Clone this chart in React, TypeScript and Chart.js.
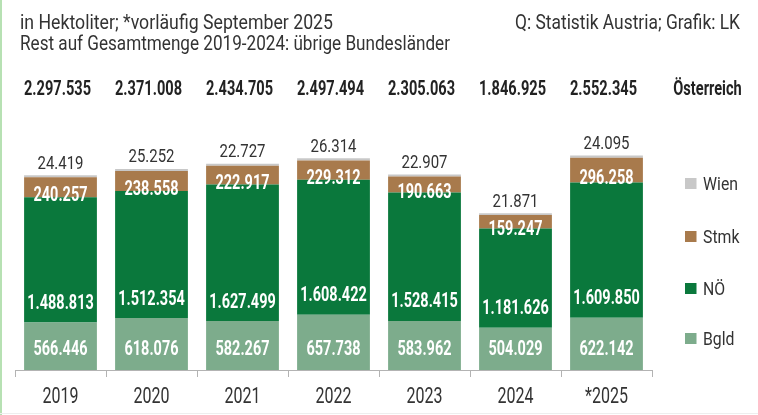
import { useEffect, useRef } from 'react';
import { Chart, registerables } from 'chart.js';

Chart.register(...registerables);

const categories = ['2019', '2020', '2021', '2022', '2023', '2024', '*2025'];
const bgld = [566446, 618076, 582267, 657738, 583962, 504029, 622142];
const noe = [1488813, 1512354, 1627499, 1608422, 1528415, 1181626, 1609850];
const stmk = [240257, 238558, 222917, 229312, 190663, 159247, 296258];
const wien = [24419, 25252, 22727, 26314, 22907, 21871, 24095];
const totals = [2297535, 2371008, 2434705, 2497494, 2305063, 1846925, 2552345];
const seriesNames = ['Bgld', 'NÖ', 'Stmk', 'Wien'];
const seriesColors = ['#7dac8c', '#0a783c', '#a87a4c', '#c8c8c8'];

const FONT = "Roboto, 'Liberation Sans', sans-serif";
const TEXT = '#333333';

function fmt(n: number): string {
  return String(n).replace(/\B(?=(\d{3})+(?!\d))/g, '.');
}

type Style = { size: number; weight: string; sample: string; width: number };

// condensed look: horizontal scale derived from a sample string width
function scaleFor(ctx: CanvasRenderingContext2D, st: Style): number {
  ctx.save();
  ctx.font = `${st.weight} ${st.size}px ${FONT}`;
  const w = ctx.measureText(st.sample).width;
  ctx.restore();
  return w > 0 ? st.width / w : 1;
}

function txt(
  ctx: CanvasRenderingContext2D,
  s: string,
  x: number,
  y: number,
  st: Style,
  sx: number,
  color: string,
  align: CanvasTextAlign
) {
  ctx.save();
  ctx.font = `${st.weight} ${st.size}px ${FONT}`;
  ctx.fillStyle = color;
  ctx.textBaseline = 'alphabetic';
  ctx.textAlign = align;
  ctx.translate(x, y);
  ctx.scale(sx, 1);
  ctx.fillText(s, 0, 0);
  ctx.restore();
}

const TITLE1 = 'in Hektoliter; *vorläufig September 2025';
const TITLE2 = 'Rest auf Gesamtmenge 2019-2024: übrige Bundesländer';
const SOURCE = 'Q: Statistik Austria; Grafik: LK';

const S_TITLE1: Style = { size: 20, weight: 'normal', sample: TITLE1, width: 313 };
const S_TITLE2: Style = { size: 20, weight: 'normal', sample: TITLE2, width: 430 };
const S_SRC: Style = { size: 20, weight: 'normal', sample: SOURCE, width: 225 };
const S_XLAB: Style = { size: 22, weight: 'normal', sample: '2019', width: 36 };
const S_TOTAL: Style = { size: 21, weight: 'bold', sample: '2.297.535', width: 67 };
const S_BAR: Style = { size: 21, weight: 'bold', sample: '566.446', width: 54 };
const S_WIEN: Style = { size: 18, weight: 'normal', sample: '24.419', width: 46 };
const S_LEG: Style = { size: 18.5, weight: 'normal', sample: 'Wien', width: 35 };

const labelsPlugin = {
  id: 'customLabels',
  afterDraw(chart: any) {
    const ctx: CanvasRenderingContext2D = chart.ctx;
    const sT1 = scaleFor(ctx, S_TITLE1);
    const sT2 = scaleFor(ctx, S_TITLE2);
    const sSrc = scaleFor(ctx, S_SRC);
    const sX = scaleFor(ctx, S_XLAB);
    const sTot = scaleFor(ctx, S_TOTAL);
    const sBar = scaleFor(ctx, S_BAR);
    const sW = scaleFor(ctx, S_WIEN);
    const sLeg = scaleFor(ctx, S_LEG);

    txt(ctx, TITLE1, 20, 29, S_TITLE1, sT1, TEXT, 'left');
    txt(ctx, TITLE2, 20, 50, S_TITLE2, sT2, TEXT, 'left');
    txt(ctx, SOURCE, 740, 29, S_SRC, sSrc, TEXT, 'right');

    const xScale = chart.scales.x;
    categories.forEach((c, i) => {
      txt(ctx, c, xScale.getPixelForValue(i), 403, S_XLAB, sX, TEXT, 'center');
    });

    totals.forEach((t, i) => {
      txt(ctx, fmt(t), xScale.getPixelForValue(i) - 3, 95, S_TOTAL, sTot, '#222', 'center');
    });
    txt(ctx, 'Österreich', 707.5, 95, S_TOTAL, sTot, '#222', 'center');

    const m0 = chart.getDatasetMeta(0);
    const m1 = chart.getDatasetMeta(1);
    const m2 = chart.getDatasetMeta(2);
    const m3 = chart.getDatasetMeta(3);
    m0.data.forEach((el: any, i: number) => {
      const p = el.getProps(['x', 'y', 'base'], true);
      txt(ctx, fmt(bgld[i]), p.x, p.base - 15, S_BAR, sBar, '#fff', 'center');
    });
    m1.data.forEach((el: any, i: number) => {
      const p = el.getProps(['x', 'y', 'base'], true);
      txt(ctx, fmt(noe[i]), p.x, p.base - 13.5, S_BAR, sBar, '#fff', 'center');
    });
    m2.data.forEach((el: any, i: number) => {
      const p = el.getProps(['x', 'y', 'base'], true);
      txt(ctx, fmt(stmk[i]), p.x, (p.y + p.base) / 2 + 13.5, S_BAR, sBar, '#fff', 'center');
    });
    m3.data.forEach((el: any, i: number) => {
      const p = el.getProps(['x', 'y', 'base'], true);
      txt(ctx, fmt(wien[i]), p.x, p.y - 6.5, S_WIEN, sW, TEXT, 'center');
    });

    const order = [3, 2, 1, 0];
    const tops = [178, 231, 283, 333];
    order.forEach((di, k) => {
      ctx.save();
      ctx.fillStyle = seriesColors[di];
      ctx.fillRect(685, tops[k], 11.5, 11);
      ctx.restore();
      txt(ctx, seriesNames[di], 703, tops[k] + 12, S_LEG, sLeg, TEXT, 'left');
    });
  },
};

export default function App() {
  const ref = useRef<HTMLCanvasElement | null>(null);

  useEffect(() => {
    if (!ref.current) return;
    const data = [bgld, noe, stmk, wien];
    const chart = new Chart(ref.current, {
      type: 'bar',
      data: {
        labels: categories,
        datasets: data.map((d, i) => ({
          label: seriesNames[i],
          data: d,
          backgroundColor: seriesColors[i],
          borderWidth: 0,
          categoryPercentage: 0.8,
          barPercentage: 1,
        })),
      },
      options: {
        responsive: false,
        animation: false,
        layout: { padding: { left: 15, right: 106, top: 118, bottom: 0 } },
        plugins: { legend: { display: false }, tooltip: { enabled: false } },
        scales: {
          x: {
            stacked: true,
            grid: {
              offset: true,
              drawOnChartArea: false,
              drawTicks: true,
              tickLength: 7,
              color: '#b3b3b3',
            },
            border: { display: true, color: '#b3b3b3', width: 1 },
            ticks: { display: false },
            afterFit: (s: any) => {
              s.height = 45;
            },
          },
          y: { stacked: true, display: false, min: 0, max: 3000000 },
        },
      },
      plugins: [labelsPlugin],
    } as any);
    return () => chart.destroy();
  }, []);

  return (
    <div style={{ position: 'fixed', left: 0, top: 0, width: 758, height: 415, background: '#fff' }}>
      <canvas ref={ref} width={758} height={415} style={{ display: 'block' }} />
      <div style={{ position: 'absolute', left: 0, top: 0, width: 2, height: 415, background: '#b7e1b3' }} />
      <div style={{ position: 'absolute', left: 0, top: 413, width: 758, height: 1, background: '#eeeeee' }} />
    </div>
  );
}
